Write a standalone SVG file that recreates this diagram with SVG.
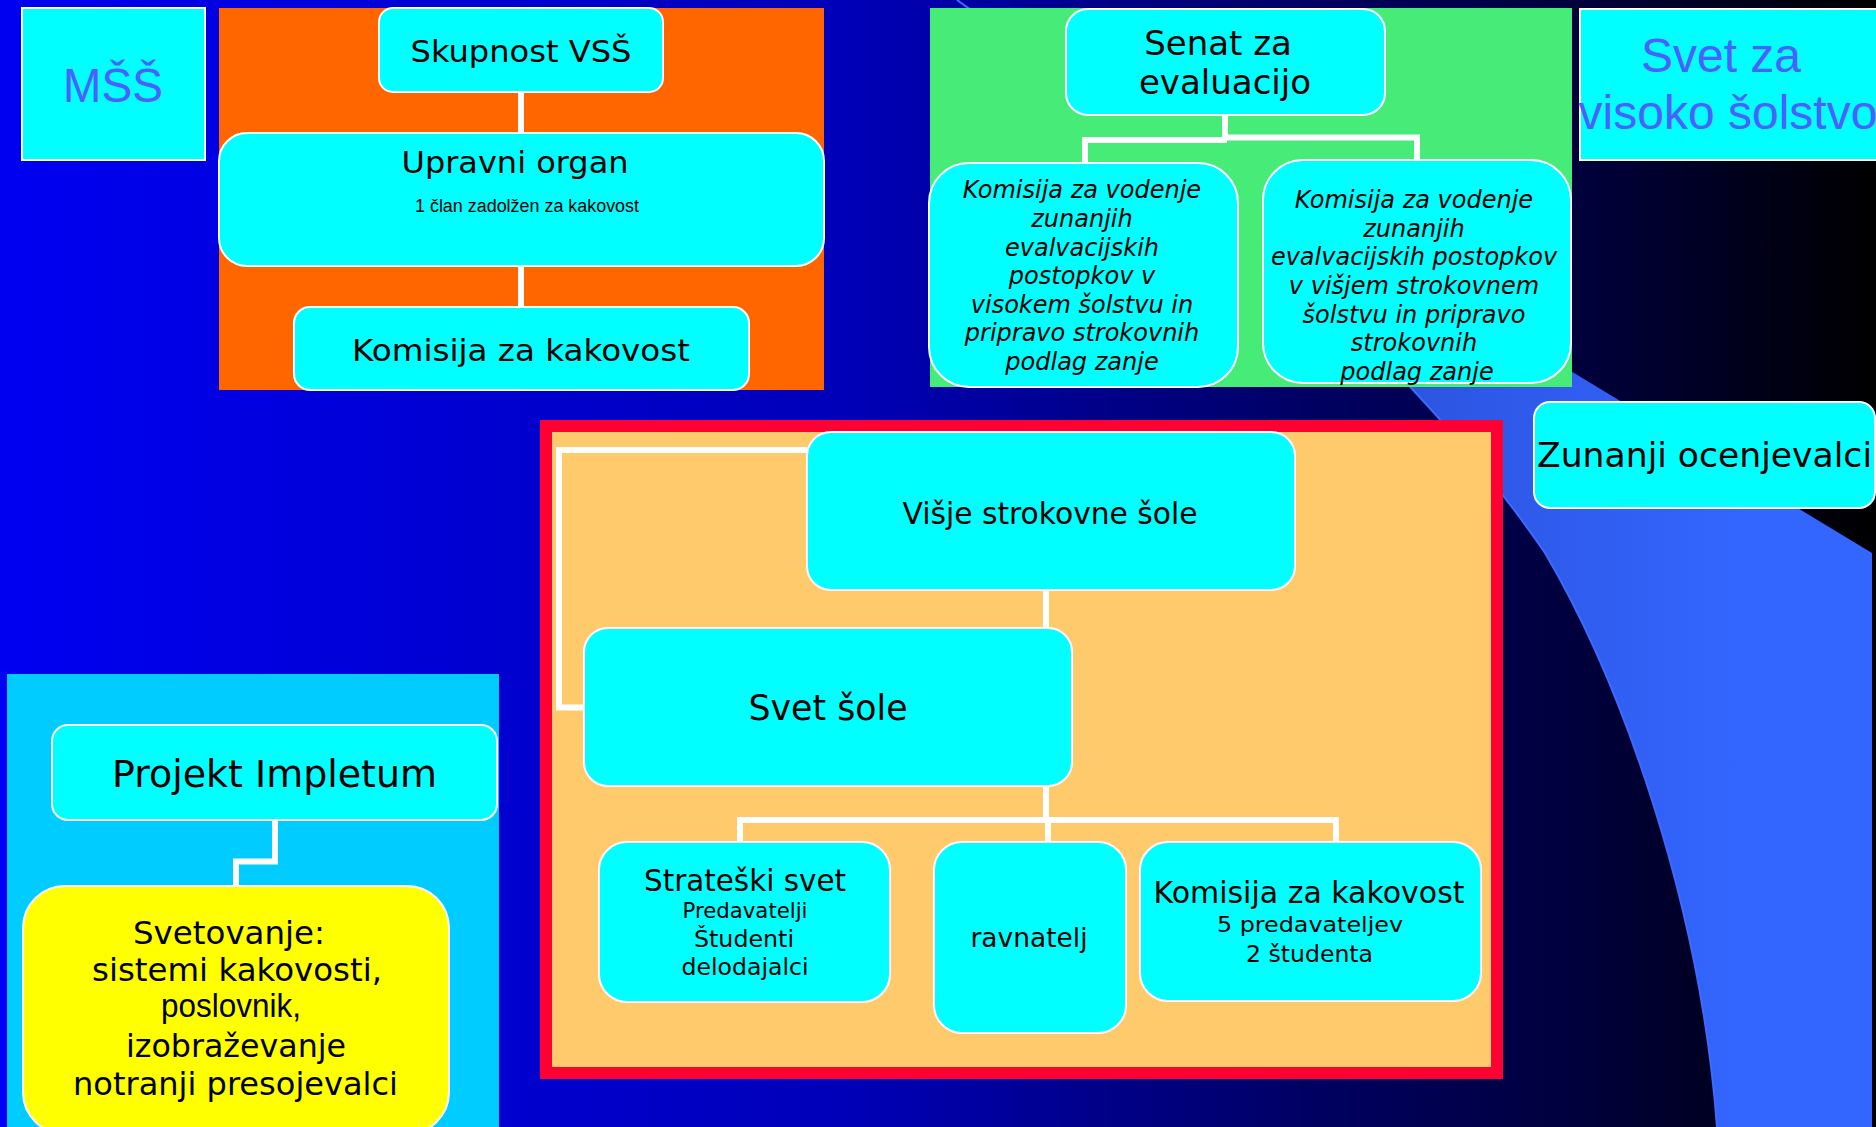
<svg xmlns="http://www.w3.org/2000/svg" width="1876" height="1127" viewBox="0 0 1876 1127">
<defs>
<linearGradient id="bg" x1="0" y1="0" x2="1876" y2="0" gradientUnits="userSpaceOnUse">
<stop offset="0" stop-color="#0000F2"/>
<stop offset="0.45" stop-color="#0000B8"/>
<stop offset="0.7" stop-color="#000062"/>
<stop offset="0.85" stop-color="#00003A"/>
<stop offset="1" stop-color="#000000"/>
</linearGradient>
<linearGradient id="band" x1="1250" y1="0" x2="1750" y2="0" gradientUnits="userSpaceOnUse">
<stop offset="0" stop-color="#2A4CD2"/>
<stop offset="1" stop-color="#3366FF"/>
</linearGradient>
<style>
.box{fill:#00FFFF;stroke:#FFFFFF;stroke-width:2}
.t{font-family:"DejaVu Sans",Verdana,sans-serif;fill:#000;text-anchor:middle}
.a{font-family:"Liberation Sans",Arial,sans-serif}
.it{font-style:italic;font-size:24px}
.big{font-family:"Liberation Sans",Arial,sans-serif;fill:#4B61FF;font-size:48px;text-anchor:middle}
.con{fill:none;stroke:#FFFFFF;stroke-width:6}
</style>
</defs>
<rect x="0" y="0" width="1876" height="1127" fill="url(#bg)"/>
<path d="M957,0 L1872,553 L1872,1127 L1717,1127 C1700,900 1620,680 1545,553 C1400,340 1150,140 957,0 Z" fill="url(#band)"/>
<path d="M1717,1127 C1700,900 1620,680 1545,553 C1400,340 1150,140 957,0" fill="none" stroke="#3D6BFF" stroke-width="2"/>

<g id="panels">
<rect x="219" y="8" width="605" height="382" fill="#FF6600"/>
<rect x="930" y="8" width="642" height="379" fill="#47EB78"/>
<rect x="546" y="426" width="951" height="647" fill="#FFCA6C" stroke="#FF0033" stroke-width="12"/>
<rect x="7" y="674" width="492" height="453" fill="#00CCFF"/>
</g>

<g id="connectors">
<path class="con" d="M521,92 V133 M521,266 V307"/>
<path class="con" d="M1225,115 V140 M1085,163 V140 H1227 M1223,137.5 H1417 V160"/>
<path class="con" d="M807,450 H559 V707.5 H584"/>
<path class="con" stroke-width="8" d="M1046,590 V628"/>
<path class="con" d="M1046,786 V820 M740,843 V820 H1336 V843 M1048,820 V843"/>
<path class="con" stroke-width="5.5" d="M275,820 V861.5 H236 V887"/>
</g>

<g id="mss">
<rect x="22" y="8" width="183" height="152" fill="#00FFFF" stroke="#FFFFFF" stroke-width="2"/>
<text class="big" x="113" y="102" textLength="100" lengthAdjust="spacingAndGlyphs">MŠŠ</text>
</g>

<g id="skupnost">
<rect class="box" x="379" y="8" width="284" height="84" rx="14"/>
<text class="t" x="521" y="62" font-size="31" textLength="221" lengthAdjust="spacingAndGlyphs">Skupnost VSŠ</text>
</g>

<g id="upravni">
<rect class="box" x="219" y="133" width="605" height="133" rx="28"/>
<text class="t" x="515" y="173" font-size="31" textLength="227" lengthAdjust="spacingAndGlyphs">Upravni organ</text>
<text class="t a" x="527" y="212" font-size="18" textLength="224" lengthAdjust="spacingAndGlyphs">1 član zadolžen za kakovost</text>
</g>

<g id="komisija-top">
<rect class="box" x="294" y="307" width="455" height="83" rx="16"/>
<text class="t" x="521" y="361" font-size="31" textLength="338" lengthAdjust="spacingAndGlyphs">Komisija za kakovost</text>
</g>

<g id="senat">
<rect class="box" x="1066" y="9" width="319" height="106" rx="22"/>
<text class="t" x="1218" y="55" font-size="34">Senat za</text>
<text class="t" x="1225" y="94" font-size="34">evaluacijo</text>
</g>

<g id="komisija-visoko">
<rect class="box" x="929" y="163" width="309" height="224" rx="40"/>
<text class="t it" x="1082" y="198">Komisija za vodenje</text>
<text class="t it" x="1082" y="227">zunanjih</text>
<text class="t it" x="1082" y="256">evalvacijskih</text>
<text class="t it" x="1082" y="284">postopkov v</text>
<text class="t it" x="1082" y="313">visokem šolstvu in</text>
<text class="t it" x="1082" y="341">pripravo strokovnih</text>
<text class="t it" x="1082" y="370">podlag zanje</text>
</g>

<g id="komisija-visje">
<rect class="box" x="1263" y="160" width="308" height="223" rx="40"/>
<text class="t it" x="1414" y="208">Komisija za vodenje</text>
<text class="t it" x="1414" y="237">zunanjih</text>
<text class="t it" x="1414" y="265">evalvacijskih postopkov</text>
<text class="t it" x="1414" y="294">v višjem strokovnem</text>
<text class="t it" x="1414" y="323">šolstvu in pripravo</text>
<text class="t it" x="1414" y="351">strokovnih</text>
<text class="t it" x="1417" y="380">podlag zanje</text>
</g>

<g id="svet-vs">
<rect x="1580" y="9" width="300" height="151" fill="#00FFFF" stroke="#FFFFFF" stroke-width="2"/>
<text class="big" x="1721" y="72">Svet za</text>
<text class="big" x="1728" y="129">visoko šolstvo</text>
</g>

<g id="zunanji">
<rect class="box" x="1534" y="402" width="341" height="106" rx="16"/>
<text class="t" x="1704.5" y="467" font-size="34.5" textLength="335" lengthAdjust="spacingAndGlyphs">Zunanji ocenjevalci</text>
</g>

<g id="visje">
<rect class="box" x="807" y="432" width="488" height="158" rx="24"/>
<text class="t" x="1050" y="524" font-size="29.5" textLength="295" lengthAdjust="spacingAndGlyphs">Višje strokovne šole</text>
</g>

<g id="svet-sole">
<rect class="box" x="584" y="628" width="488" height="158" rx="24"/>
<text class="t" x="828" y="720" font-size="35" textLength="159" lengthAdjust="spacingAndGlyphs">Svet šole</text>
</g>

<g id="strateski">
<rect class="box" x="599" y="842" width="291" height="160" rx="28"/>
<text class="t" x="745" y="891" font-size="29.5" textLength="202" lengthAdjust="spacingAndGlyphs">Strateški svet</text>
<text class="t" x="745" y="918" font-size="22" textLength="125" lengthAdjust="spacingAndGlyphs">Predavatelji</text>
<text class="t" x="744" y="947" font-size="22.5" textLength="100" lengthAdjust="spacingAndGlyphs">Študenti</text>
<text class="t" x="745" y="975" font-size="22.5" textLength="127" lengthAdjust="spacingAndGlyphs">delodajalci</text>
</g>

<g id="ravnatelj">
<rect class="box" x="934" y="842" width="192" height="191" rx="28"/>
<text class="t" x="1029" y="947" font-size="26.5" textLength="117" lengthAdjust="spacingAndGlyphs">ravnatelj</text>
</g>

<g id="komisija-sola">
<rect class="box" x="1140" y="842" width="341" height="159" rx="28"/>
<text class="t" x="1309" y="903" font-size="29.5" textLength="311" lengthAdjust="spacingAndGlyphs">Komisija za kakovost</text>
<text class="t" x="1310" y="932" font-size="22" textLength="186" lengthAdjust="spacingAndGlyphs">5 predavateljev</text>
<text class="t" x="1309.5" y="962" font-size="22.5" textLength="127" lengthAdjust="spacingAndGlyphs">2 študenta</text>
</g>

<g id="impletum">
<rect class="box" x="52" y="725" width="445" height="95" rx="16"/>
<text class="t" x="274.5" y="787" font-size="37" textLength="325" lengthAdjust="spacingAndGlyphs">Projekt Impletum</text>
</g>

<g id="svetovanje">
<rect x="23" y="886" width="426" height="248" rx="42" fill="#FFFF00" stroke="#FFFFFF" stroke-width="2"/>
<text class="t" x="229" y="944" font-size="32" textLength="192" lengthAdjust="spacingAndGlyphs">Svetovanje:</text>
<text class="t" x="237" y="981" font-size="32" textLength="290" lengthAdjust="spacingAndGlyphs">sistemi kakovosti,</text>
<text class="t a" x="231" y="1017" font-size="33" textLength="140" lengthAdjust="spacingAndGlyphs">poslovnik,</text>
<text class="t" x="236" y="1057" font-size="32" textLength="220" lengthAdjust="spacingAndGlyphs">izobraževanje</text>
<text class="t" x="235.5" y="1095" font-size="32" textLength="325" lengthAdjust="spacingAndGlyphs">notranji presojevalci</text>
</g>
</svg>
